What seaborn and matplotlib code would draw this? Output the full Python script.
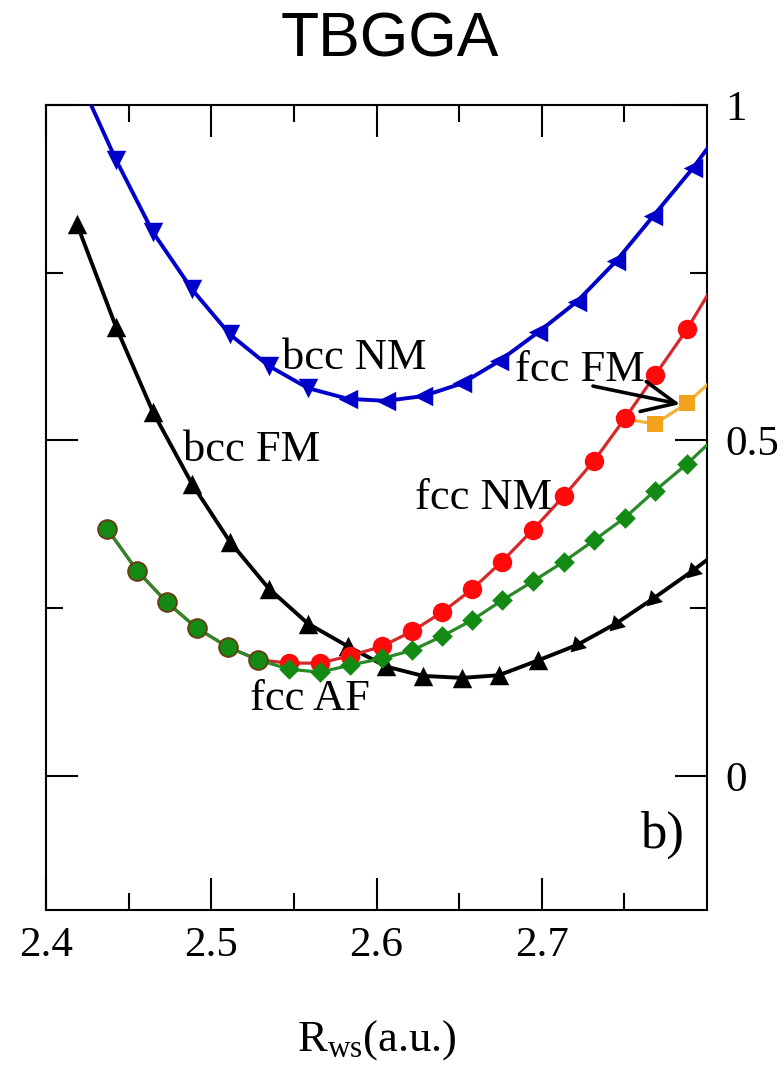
import matplotlib
matplotlib.use("Agg")
import matplotlib.pyplot as plt
from matplotlib.ticker import FixedLocator, FuncFormatter
import seaborn as sns
import pandas as pd

# ---------------- data ----------------
bcc_x = [2.4188, 2.4424, 2.4648, 2.4884, 2.5113, 2.5349, 2.5585, 2.5827, 2.6057,
         2.6281, 2.6517, 2.6741, 2.6977, 2.7213, 2.7449, 2.7673, 2.7915, 2.8151]
bcc_nm_y = [1.046, 0.918, 0.810, 0.725, 0.658, 0.611, 0.578, 0.562, 0.559,
            0.566, 0.585, 0.618, 0.661, 0.707, 0.767, 0.834, 0.906, 0.985]
bcc_fm_y = [0.822, 0.669, 0.542, 0.435, 0.349, 0.279, 0.227, 0.193, 0.163,
            0.149, 0.146, 0.150, 0.172, 0.195, 0.227, 0.264, 0.306, 0.350]

fcc_x = [2.4369, 2.4551, 2.4732, 2.4914, 2.5101, 2.5283, 2.5470, 2.5658, 2.5840, 2.6033,
         2.6215, 2.6396, 2.6578, 2.6759, 2.6947, 2.7135, 2.7316, 2.7504, 2.7685, 2.7879, 2.8060]
fcc_nm_y = [0.3685, 0.306, 0.2585, 0.220, 0.192, 0.173, 0.168, 0.168, 0.179, 0.193,
            0.2155, 0.2437, 0.278, 0.3195, 0.367, 0.4175, 0.4695, 0.533, 0.597, 0.6657, 0.740]
fcc_af_y = [0.3685, 0.306, 0.2585, 0.220, 0.192, 0.173, 0.159, 0.1545, 0.165, 0.175,
            0.187, 0.208, 0.232, 0.2615, 0.290, 0.3195, 0.351, 0.385, 0.425, 0.465, 0.507]

fcc_fm_x = [2.7504, 2.7685, 2.7879, 2.8060]
fcc_fm_y = [0.532, 0.5245, 0.5557, 0.596]

x_ticks = [2.4, 2.5, 2.6, 2.7]
x_minor = [2.45, 2.55, 2.65, 2.75]
y_ticks = [0.0, 0.5, 1.0]
y_minor = [0.25, 0.75]

labels = ["bcc NM", "bcc FM", "fcc NM", "fcc FM", "fcc AF"]
label_pos = [(2.5428, 0.606), (2.483, 0.4695), (2.6233, 0.398), (2.6838, 0.588), (2.5234, 0.098)]

# ---------------- style ----------------
sns.set_style("ticks")
plt.rcParams["font.family"] = ["Liberation Serif", "DejaVu Serif"]
plt.rcParams["mathtext.fontset"] = "custom"
plt.rcParams["mathtext.rm"] = "Liberation Serif"
plt.rcParams["mathtext.it"] = "Liberation Serif:italic"
for k in ["text.color", "axes.labelcolor", "xtick.color", "ytick.color", "axes.edgecolor"]:
    plt.rcParams[k] = "black"

fig = plt.figure(figsize=(7.84, 10.67), dpi=100)
ax = fig.add_axes([46 / 784, 1 - 910 / 1067, (707 - 46) / 784, (910 - 105) / 1067])

C_BLUE = "#0000c8"
C_RED_L = "#d42a2a"
C_RED_M = "#ff0a0a"
C_GREEN_L = "#2a8a2a"
C_GREEN_M = "#138a13"
C_ORANGE_L = "#f2b23a"
C_ORANGE_M = "#f3a21c"

bcc = pd.DataFrame({"x": bcc_x, "nm": bcc_nm_y, "fm": bcc_fm_y})
fcc = pd.DataFrame({"x": fcc_x, "nm": fcc_nm_y, "af": fcc_af_y})
ffm = pd.DataFrame({"x": fcc_fm_x, "y": fcc_fm_y})

s_tri = 14 ** 2
s_circ = 14 ** 2

# bcc NM (blue)
sns.lineplot(data=bcc, x="x", y="nm", ax=ax, color=C_BLUE, lw=2.8, zorder=3)
left = bcc[bcc["x"] < 2.57]
right = bcc[bcc["x"] >= 2.57]
sns.scatterplot(data=left, x="x", y="nm", ax=ax, color=C_BLUE, marker="v", s=s_tri,
                linewidth=0, zorder=4)
sns.scatterplot(data=right, x="x", y="nm", ax=ax, color=C_BLUE, marker="<", s=s_tri,
                linewidth=0, zorder=4)

# bcc FM (black)
sns.lineplot(data=bcc, x="x", y="fm", ax=ax, color="black", lw=2.8, zorder=3)
bl = bcc[bcc["x"] < 2.71]
br = bcc[bcc["x"] >= 2.71]
sns.scatterplot(data=bl, x="x", y="fm", ax=ax, color="black", marker="^", s=s_tri,
                linewidth=0, zorder=4)
sns.scatterplot(data=br, x="x", y="fm", ax=ax, color="black", marker=(3, 0, 135), s=s_tri,
                linewidth=0, zorder=4)

# fcc NM (red)
sns.lineplot(data=fcc, x="x", y="nm", ax=ax, color=C_RED_L, lw=2.3, zorder=5)
sns.scatterplot(data=fcc, x="x", y="nm", ax=ax, color=C_RED_M, marker="o", s=s_circ,
                linewidth=0, zorder=6)

# fcc FM (orange)
sns.lineplot(data=ffm, x="x", y="y", ax=ax, color=C_ORANGE_L, lw=2.3, zorder=5)
sns.scatterplot(data=ffm.iloc[1:], x="x", y="y", ax=ax, color=C_ORANGE_M, marker="s", s=11 ** 2,
                linewidth=0, zorder=6)

# fcc AF (green)
sns.lineplot(data=fcc, x="x", y="af", ax=ax, color=C_GREEN_L, lw=2.3, zorder=7)
gl = fcc[fcc["x"] < 2.535]
gr = fcc[fcc["x"] >= 2.535]
sns.scatterplot(data=gl, x="x", y="af", ax=ax, color=C_GREEN_M, marker="o", s=13.5 ** 2,
                edgecolor="#6a3a12", linewidth=1.3, zorder=8)
sns.scatterplot(data=gr, x="x", y="af", ax=ax, color=C_GREEN_M, marker="D", s=10.5 ** 2,
                linewidth=0, zorder=8)

# ---------------- axes ----------------
ax.set_xlim(2.4, 2.8)
ax.set_ylim(-0.2, 1.0)
ax.xaxis.set_major_locator(FixedLocator(x_ticks))
ax.xaxis.set_minor_locator(FixedLocator(x_minor))
ax.yaxis.set_major_locator(FixedLocator(y_ticks))
ax.yaxis.set_minor_locator(FixedLocator(y_minor))
fmt = FuncFormatter(lambda v, p: "%g" % v)
ax.xaxis.set_major_formatter(fmt)
ax.yaxis.set_major_formatter(fmt)

for sp in ax.spines.values():
    sp.set_linewidth(1.5)
    sp.set_visible(True)
    sp.set_color("black")
ax.tick_params(axis="both", which="both", direction="in", top=True, bottom=True,
               left=True, right=True, labelleft=False, labelright=True, width=1.5,
               colors="black")
ax.tick_params(axis="both", which="major", length=23, labelsize=31)
ax.tick_params(axis="both", which="minor", length=12)
ax.tick_params(axis="x", which="major", pad=12)
ax.tick_params(axis="y", which="major", pad=13)

ax.set_xlabel(r"R$_{\rm ws}$(a.u.)", fontsize=32, labelpad=38, color="black")
ax.set_ylabel("")

for txt, (tx, ty) in zip(labels, label_pos):
    ax.text(tx, ty, txt, fontsize=32, ha="left", va="baseline", zorder=10, color="black")

ax.text(2.7595, -0.107, "b)", fontsize=38, ha="left", va="baseline", zorder=10, color="black")

ax.annotate("", xy=(2.7837, 0.554), xytext=(2.7310, 0.581),
            arrowprops=dict(arrowstyle="->,head_length=1.2,head_width=0.55", lw=2.6,
                            color="black", shrinkA=0, shrinkB=0, mutation_scale=20),
            zorder=11)

fig.text(0.497, 1 - 40 / 1067, "TBGGA", fontsize=45, ha="center", va="center",
         family=["Liberation Sans", "DejaVu Sans"], color="black")

fig.savefig("out.png", dpi=100)
